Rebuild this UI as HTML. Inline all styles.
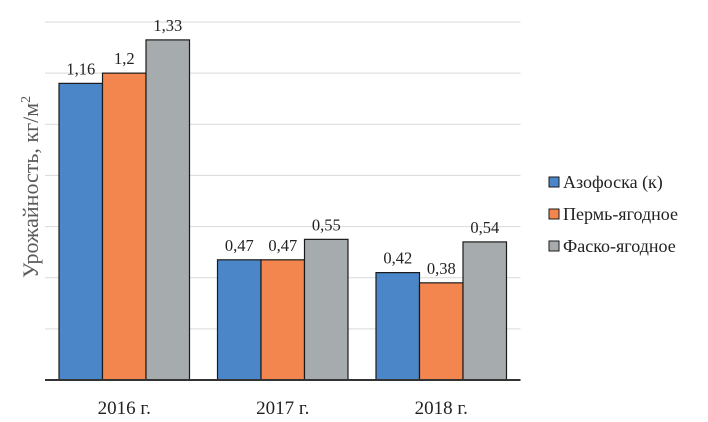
<!DOCTYPE html>
<html><head><meta charset="utf-8"><style>
body{margin:0;background:#fff;}
svg{display:block;font-family:"Liberation Serif",serif;}
</style></head><body>
<svg id="chart" width="708" height="422">
<g id="grid"></g><g id="bars"></g><g id="labels"></g>
<text transform="translate(38,187) rotate(-90)" text-anchor="middle" font-size="22" fill="#5a5a5a">Урожайность, кг/м<tspan dy="-8" font-size="14">2</tspan></text>
<g id="legend"></g>
</svg>
<script>
const categories=["2016 г.","2017 г.","2018 г."];
const seriesNames=["Азофоска (к)","Пермь-ягодное","Фаско-ягодное"];
const azofoska=[1.16,0.47,0.42];
const perm=[1.2,0.47,0.38];
const fasko=[1.33,0.55,0.54];
const valueLabels=[["1,16","0,47","0,42"],["1,2","0,47","0,38"],["1,33","0,55","0,54"]];
const gridTicks=[0.2,0.4,0.6,0.8,1.0,1.2,1.4];
const series=[azofoska,perm,fasko];
const colors=["#4a86c8","#f3864e","#a6abad"];
const NS="http://www.w3.org/2000/svg";
const x0=45,x1=520.5,yb=380,yt=22,ymax=1.4;
const y=v=>yb-(v/ymax)*(yb-yt);
const cw=(x1-x0)/categories.length;
const bw=43.5;
function mk(tag,attrs,parent){const e=document.createElementNS(NS,tag);for(const k in attrs)e.setAttribute(k,attrs[k]);parent.appendChild(e);return e;}
const grid=document.getElementById('grid'),bars=document.getElementById('bars'),labels=document.getElementById('labels'),legend=document.getElementById('legend');
gridTicks.forEach(t=>{const l=mk('line',{x1:x0,x2:x1,y1:y(t),y2:y(t),stroke:'#d9d9d9','stroke-width':1},grid);

});
categories.forEach((c,i)=>{
 const cx=x0+cw*(i+0.5);
 series.forEach((s,j)=>{
  const bx=cx-1.5*bw+j*bw;
  const r=mk('rect',{x:bx,y:y(s[i]),width:bw,height:yb-y(s[i]),fill:colors[j],stroke:'#1a1a1a','stroke-width':1.2},bars);
  
  
  const t=mk('text',{x:bx+bw/2,y:y(s[i])-9,'text-anchor':'middle','font-size':16.5,fill:'#222'},labels);
  t.textContent=valueLabels[j][i];
  
  
 });
 const ct=mk('text',{x:cx,y:414,'text-anchor':'middle','font-size':19,fill:'#222'},labels);
 ct.textContent=c;
 
 
});
const ax=mk('line',{x1:x0,x2:x1,y1:yb,y2:yb,stroke:'#333','stroke-width':2},bars);


seriesNames.forEach((n,j)=>{
 const ly=182+j*32;
 const g=mk('g',{},legend);
 
 
 mk('rect',{x:549,y:ly-5,width:10,height:10,fill:colors[j],stroke:'#1a1a1a','stroke-width':1},g);
 const t=mk('text',{x:563,y:ly+6,'font-size':18,fill:'#222'},g);
 t.textContent=n;
});
</script>
</body></html>
